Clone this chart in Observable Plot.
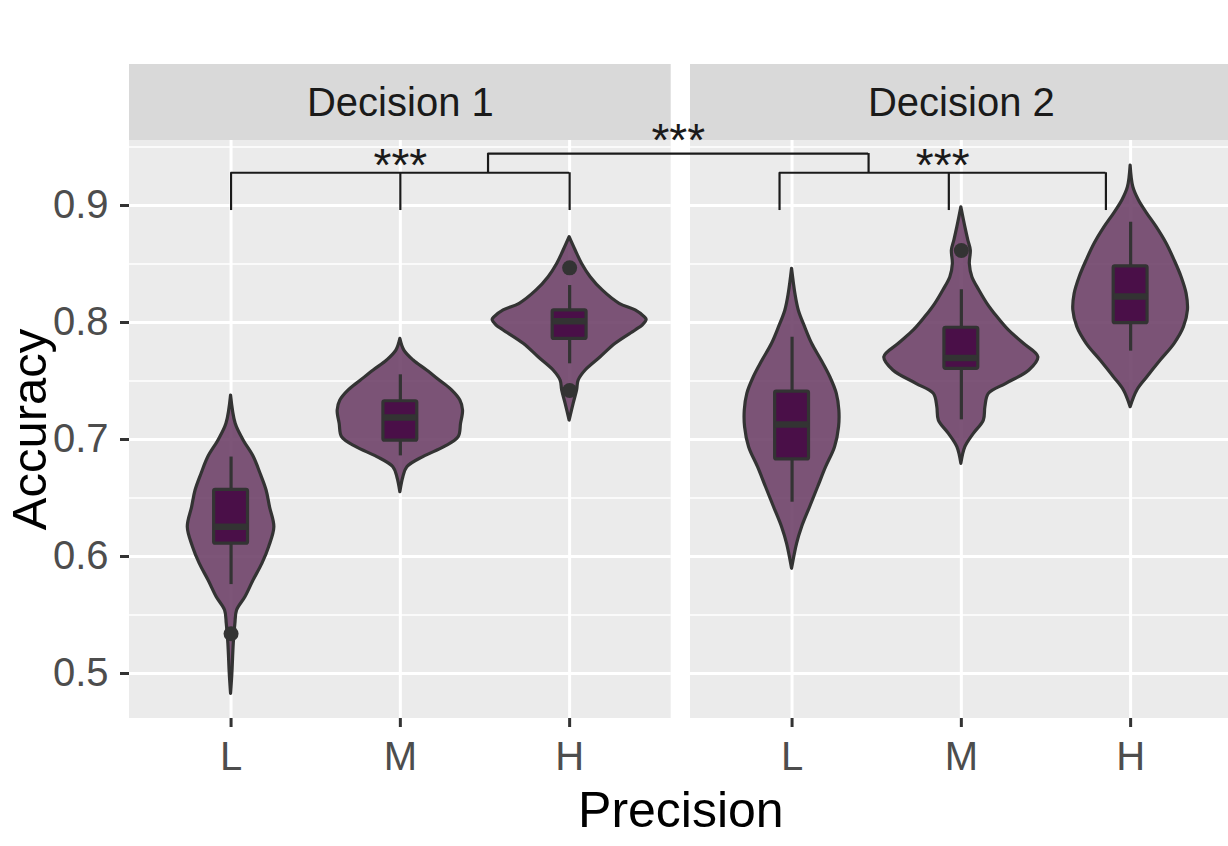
<!DOCTYPE html>
<html>
<head>
<meta charset="utf-8">
<script src="https://cdn.jsdelivr.net/npm/d3@7"></script>
<script src="https://cdn.jsdelivr.net/npm/@observablehq/plot@0.6"></script>
<style>
  html, body { margin: 0; padding: 0; background: #ffffff; }
  #chart { width: 1228px; height: 846px; overflow: hidden; }
</style>
</head>
<body>
<div id="chart"></div>
<script>
// Facets and categories
const decisions = ["Decision 1", "Decision 2"];
const precisions = ["L", "M", "H"];

// Axis ticks
const yTicks = [0.5, 0.6, 0.7, 0.8, 0.9];
const yMinorTicks = [0.55, 0.65, 0.75, 0.85, 0.95];

// Violin outlines: accuracy levels and relative density (1 = widest violin)
const d1L_acc = [0.7376, 0.7134, 0.699, 0.685, 0.6707, 0.6564, 0.642, 0.625, 0.608, 0.5937, 0.5795, 0.5652, 0.5538, 0.5425, 0.5254, 0.4997, 0.4826];
const d1L_den = [0, 0.06, 0.165, 0.295, 0.383, 0.461, 0.506, 0.562, 0.494, 0.406, 0.292, 0.186, 0.078, 0.056, 0.035, 0.017, 0];
const d1M_acc = [0.786, 0.776, 0.7675, 0.759, 0.75, 0.742, 0.7333, 0.7248, 0.7134, 0.702, 0.6934, 0.685, 0.6763, 0.6678, 0.655];
const d1M_den = [0, 0.052, 0.173, 0.347, 0.519, 0.671, 0.779, 0.814, 0.788, 0.757, 0.571, 0.299, 0.091, 0.039, 0];
const d1H_acc = [0.8729, 0.8615, 0.85, 0.8387, 0.8274, 0.816, 0.8103, 0.8046, 0.8023, 0.7974, 0.7932, 0.7818, 0.7703, 0.759, 0.7504, 0.7419, 0.7305, 0.7162];
const d1H_den = [0, 0.078, 0.162, 0.273, 0.429, 0.649, 0.857, 0.974, 1.0, 0.948, 0.857, 0.597, 0.403, 0.208, 0.117, 0.097, 0.052, 0];
const d2L_acc = [0.8459, 0.8245, 0.8103, 0.796, 0.7818, 0.7675, 0.7532, 0.739, 0.7248, 0.7105, 0.6934, 0.6763, 0.6592, 0.6421, 0.625, 0.6108, 0.5895];
const d2L_den = [0, 0.043, 0.087, 0.169, 0.26, 0.383, 0.497, 0.581, 0.614, 0.61, 0.558, 0.442, 0.338, 0.234, 0.13, 0.065, 0];
const d2M_acc = [0.8985, 0.8815, 0.87, 0.8615, 0.85, 0.8387, 0.8274, 0.816, 0.8046, 0.7932, 0.7818, 0.7703, 0.759, 0.7476, 0.739, 0.7276, 0.7162, 0.7048, 0.6934, 0.6792];
const d2M_den = [0, 0.052, 0.091, 0.123, 0.11, 0.143, 0.234, 0.338, 0.468, 0.617, 0.812, 1.0, 0.883, 0.584, 0.357, 0.312, 0.292, 0.162, 0.052, 0];
const d2H_acc = [0.9342, 0.9157, 0.9043, 0.8929, 0.8815, 0.8673, 0.853, 0.8387, 0.8245, 0.8103, 0.796, 0.7818, 0.7675, 0.7532, 0.7419, 0.7276];
const d2H_den = [0, 0.035, 0.108, 0.217, 0.338, 0.468, 0.571, 0.662, 0.727, 0.744, 0.692, 0.571, 0.39, 0.217, 0.087, 0];

// Box-plot summaries, in order D1-L, D1-M, D1-H, D2-L, D2-M, D2-H
const whiskerLow  = [0.576, 0.686, 0.7647, 0.6464, 0.7168, 0.7755];
const quartile1   = [0.611, 0.699, 0.786, 0.683, 0.7604, 0.7994];
const medians     = [0.6255, 0.7187, 0.801, 0.7128, 0.7697, 0.8222];
const quartile3   = [0.657, 0.7327, 0.8103, 0.741, 0.7955, 0.8479];
const whiskerHigh = [0.685, 0.7553, 0.8316, 0.7874, 0.828, 0.8857];

// Outlying observations: group index and accuracy
const outlierGroup = [0, 2, 2, 4];
const outlierAcc   = [0.534, 0.8467, 0.7419, 0.8615];

// Significance brackets (positions on each facet's Precision axis)
const bracketLevels = [[1, 2, 3], [0.926, 1.926, 2.854]];
const bracketTopAcc = 0.928;
const bracketTickAcc = 0.8957;
const bridgeEnds = [[0, 2.518], [1, 1.452]];   // [facet, position]
const bridgeAcc = 0.9444;
const signifLabel = "***";

// ---- layout helpers ----
const PANEL_SPAN = 3.2;            // discrete axis 0.4 .. 3.6 per facet
const GAP = 0.114;                 // space between facets, x units
const OFFSET = PANEL_SPAN + GAP;   // shift of the second facet
const HALF = 0.455;                // max violin half width
const BOX_HALF = 0.1;              // box half width
const yDomain = [0.46154, 0.95556];

const xAt = (facet, pos) => pos + facet * OFFSET;

const violinSets = [
  [d1L_acc, d1L_den], [d1M_acc, d1M_den], [d1H_acc, d1H_den],
  [d2L_acc, d2L_den], [d2M_acc, d2M_den], [d2H_acc, d2H_den]
];

const groups = [];
decisions.forEach((d, f) => precisions.forEach((p, i) => groups.push({decision: d, precision: p, facet: f, x: xAt(f, i + 1)})));

const violinRows = [];
violinSets.forEach(([acc, den], g) => {
  acc.forEach((a, k) => violinRows.push({
    group: g, acc: a,
    x1: groups[g].x - den[k] * HALF,
    x2: groups[g].x + den[k] * HALF
  }));
});

const boxes = groups.map((g, i) => ({
  ...g, lo: whiskerLow[i], q1: quartile1[i], med: medians[i], q3: quartile3[i], hi: whiskerHigh[i]
}));

const outliers = outlierGroup.map((g, i) => ({x: groups[g].x, acc: outlierAcc[i]}));

const panels = decisions.map((d, f) => ({decision: d, x1: xAt(f, 0.4), x2: xAt(f, 3.6), mid: xAt(f, 2)}));

const gridMajor = panels.flatMap(p => yTicks.map(y => ({...p, y})));
const gridMinor = panels.flatMap(p => yMinorTicks.map(y => ({...p, y})));
const xCenters = groups.map(g => g.x);
const xLabel = new Map(groups.map(g => [g.x, g.precision]));

const brackets = bracketLevels.map((lv, f) => ({
  x1: xAt(f, lv[0]), x2: xAt(f, lv[lv.length - 1]),
  mid: (xAt(f, lv[0]) + xAt(f, lv[lv.length - 1])) / 2
}));
const bracketTicks = bracketLevels.flatMap((lv, f) => lv.map(v => ({x: xAt(f, v)})));
const bridge = bridgeEnds.map(([f, v]) => ({x: xAt(f, v)}));
const bridgeMid = (bridge[0].x + bridge[1].x) / 2;

const ink = "#333333";
const violinFill = "#6F4369";
const boxFill = "#4A0F48";
const lineW = 3.2;

const chart = Plot.plot({
  width: 1228,
  height: 846,
  marginLeft: 129,
  marginRight: -3.7,
  marginTop: 140,
  marginBottom: 128,
  x: {domain: [0.4, 3.6 + OFFSET], label: null},
  y: {domain: yDomain, label: null},
  style: {fontFamily: "'Liberation Sans', Arial, sans-serif", background: "#ffffff", overflow: "visible"},
  marks: [
    // facet panels and strips
    Plot.rect(panels, {x1: "x1", x2: "x2", fill: "#EBEBEB"}),
    Plot.rect(panels, {x1: "x1", x2: "x2", y1: () => yDomain[1], y2: () => yDomain[1], insetTop: -76, fill: "#D9D9D9"}),
    Plot.text(panels, {x: "mid", y: () => yDomain[1], dy: -37, text: "decision", fontSize: 40, fill: "#1A1A1A", lineAnchor: "middle"}),

    // grid
    Plot.ruleY(gridMinor, {y: "y", x1: "x1", x2: "x2", stroke: "#ffffff", strokeWidth: 1.5}),
    Plot.ruleY(gridMajor, {y: "y", x1: "x1", x2: "x2", stroke: "#ffffff", strokeWidth: 3}),
    Plot.ruleX(xCenters, {x: d => d, stroke: "#ffffff", strokeWidth: 3}),

    // axes
    Plot.axisY(yTicks, {tickFormat: d3.format(".1f"), tickSize: 9, tickPadding: 12, fontSize: 40,
      fill: "#4D4D4D", stroke: ink, strokeWidth: 3, label: null}),
    Plot.axisX(xCenters, {tickFormat: d => xLabel.get(d), tickSize: 9, tickPadding: 14, fontSize: 40,
      fill: "#4D4D4D", stroke: ink, strokeWidth: 3, label: null}),

    // violins
    Plot.areaX(violinRows, {y: "acc", x1: "x1", x2: "x2", z: "group", curve: "catmull-rom",
      fill: violinFill, fillOpacity: 0.9, stroke: ink, strokeWidth: lineW, strokeLinejoin: "round"}),

    // box plots
    Plot.ruleX(boxes, {x: "x", y1: "lo", y2: "q1", stroke: ink, strokeWidth: lineW}),
    Plot.ruleX(boxes, {x: "x", y1: "q3", y2: "hi", stroke: ink, strokeWidth: lineW}),
    Plot.rect(boxes, {x1: d => d.x - BOX_HALF, x2: d => d.x + BOX_HALF, y1: "q1", y2: "q3",
      fill: boxFill, stroke: ink, strokeWidth: lineW, rx: 1.5}),
    Plot.ruleY(boxes, {y: "med", x1: d => d.x - BOX_HALF, x2: d => d.x + BOX_HALF, stroke: ink, strokeWidth: 6.5}),
    Plot.dot(outliers, {x: "x", y: "acc", r: 7.5, fill: ink, stroke: null}),

    // significance brackets
    Plot.ruleY(brackets, {y: () => bracketTopAcc, x1: "x1", x2: "x2", stroke: "#1A1A1A", strokeWidth: 2.2}),
    Plot.ruleX(bracketTicks, {x: "x", y1: () => bracketTickAcc, y2: () => bracketTopAcc, stroke: "#1A1A1A", strokeWidth: 2.2}),
    Plot.ruleY([0], {y: () => bridgeAcc, x1: () => bridge[0].x, x2: () => bridge[1].x, stroke: "#1A1A1A", strokeWidth: 2.2}),
    Plot.ruleX(bridge, {x: "x", y1: () => bracketTopAcc, y2: () => bridgeAcc, stroke: "#1A1A1A", strokeWidth: 2.2}),
    Plot.text(brackets, {x: "mid", y: () => bracketTopAcc, text: () => signifLabel, fontSize: 46, fill: "#1A1A1A", lineAnchor: "bottom", dy: 8}),
    Plot.text([signifLabel], {x: () => bridgeMid, y: () => bridgeAcc, text: d => d, fontSize: 46, fill: "#1A1A1A", lineAnchor: "bottom", dy: 2}),

    // axis titles
    Plot.text(["Accuracy"], {frameAnchor: "left", dx: -84, rotate: -90, text: d => d, fontSize: 49,
      fill: "#000000", textAnchor: "middle", lineAnchor: "bottom"}),
    Plot.text(["Precision"], {frameAnchor: "bottom", dy: 108, text: d => d, fontSize: 50,
      fill: "#000000", textAnchor: "middle", lineAnchor: "bottom"})
  ]
});

document.getElementById("chart").appendChild(chart);
</script>
</body>
</html>
